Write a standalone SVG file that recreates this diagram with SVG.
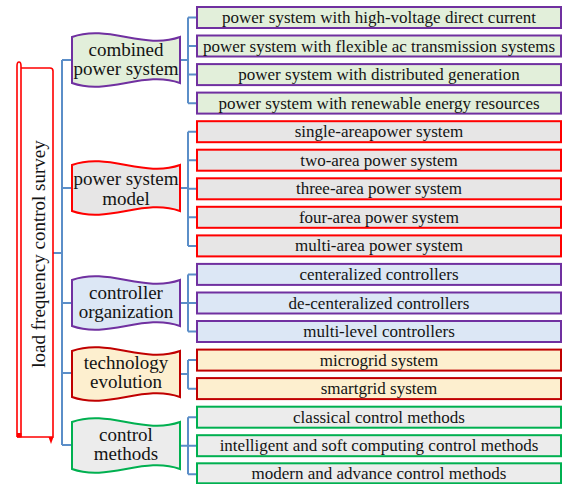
<svg xmlns="http://www.w3.org/2000/svg" width="563" height="484" viewBox="0 0 563 484">
<style>
text{font-family:"Liberation Serif","Times New Roman",serif;fill:#141414;text-anchor:middle}
.leaf{font-size:17px}
.cat{font-size:19px}
.conn{fill:none;stroke:#5b8ec8;stroke-width:2}
.lf{stroke-width:2}
.cw{stroke-width:2}
.scroll{fill:none;stroke:#ff0000;stroke-width:1.6}
</style>
<g id="connectors">
<path class="conn" d="M53,253 H62 M62,60 V445 M62,60 H72 M62,188 H72 M62,303 H72 M62,373 H72 M62,445 H72"/>
<path class="conn" d="M180,60 H188 M188,17.5 V103.15 M188,17.5 H197 M188,46.05 H197 M188,74.6 H197 M188,103.15 H197"/>
<path class="conn" d="M180,188 H188 M188,131.7 V245.9 M188,131.7 H197 M188,160.25 H197 M188,188.8 H197 M188,217.35 H197 M188,245.9 H197"/>
<path class="conn" d="M180,303 H188 M188,274.45 V331.55 M188,274.45 H197 M188,303 H197 M188,331.55 H197"/>
<path class="conn" d="M180,374 H188 M188,360.1 V388.65 M188,360.1 H197 M188,388.65 H197"/>
<path class="conn" d="M180,445.75 H188 M188,417.2 V474.3 M188,417.2 H197 M188,445.75 H197 M188,474.3 H197"/>
</g>
<g id="root">
<path d="M21,68 H50 Q53,68 53,71 V437 H17 V66 Q17,62 19,62 Q21,62 21,66 Z" fill="#ffffff" stroke="none"/>
<path class="scroll" d="M21,437 V66 Q21,62 19,62 Q17,62 17,66 V437"/>
<path class="scroll" d="M21,68 H50 Q53,68 53,71 V437 H17"/>
<rect x="17" y="433" width="4.5" height="4.5" fill="#ff0000"/>
<path d="M48.5,437 H53.5 L51,444 Z" fill="#ff0000"/>
<text class="cat" transform="translate(45,254) rotate(-90)">load frequency control survey</text>
</g>
<g id="cat-combined">
<path class="cw" d="M72,37 C108,24 144,50 180,37 V83 C144,70 108,96 72,83 Z" fill="#e2efda" stroke="#7030a0"/>
<text class="cat" x="126" y="56">combined</text>
<text class="cat" x="126" y="75">power system</text>
</g>
<g id="cat-model">
<path class="cw" d="M72,165 C108,152 144,178 180,165 V211 C144,198 108,224 72,211 Z" fill="#e7e6e6" stroke="#ff0000"/>
<text class="cat" x="126" y="185">power system</text>
<text class="cat" x="126" y="205">model</text>
</g>
<g id="cat-controller">
<path class="cw" d="M72,280 C108,267 144,293 180,280 V326 C144,313 108,339 72,326 Z" fill="#dce7f5" stroke="#7030a0"/>
<text class="cat" x="126" y="299">controller</text>
<text class="cat" x="126" y="318">organization</text>
</g>
<g id="cat-technology">
<path class="cw" d="M72,351 C108,338 144,364 180,351 V397 C144,384 108,410 72,397 Z" fill="#fdefcf" stroke="#c00000"/>
<text class="cat" x="126" y="369">technology</text>
<text class="cat" x="126" y="388">evolution</text>
</g>
<g id="cat-control">
<path class="cw" d="M72,422 C108,409 144,435 180,422 V469 C144,456 108,482 72,469 Z" fill="#ececec" stroke="#00b050"/>
<text class="cat" x="126" y="441">control</text>
<text class="cat" x="126" y="460">methods</text>
</g>
<g id="leaf-hvdc"><rect class="lf" x="197" y="7" width="364" height="21" fill="#e2efda" stroke="#7030a0"/><text class="leaf" x="379" y="23">power system with high-voltage direct current</text></g>
<g id="leaf-facts"><rect class="lf" x="197" y="35.5" width="364" height="21" fill="#e2efda" stroke="#7030a0"/><text class="leaf" x="379" y="51.5">power system with flexible ac transmission systems</text></g>
<g id="leaf-dg"><rect class="lf" x="197" y="64.1" width="364" height="21" fill="#e2efda" stroke="#7030a0"/><text class="leaf" x="379" y="80.1">power system with distributed generation</text></g>
<g id="leaf-res"><rect class="lf" x="197" y="92.6" width="364" height="21" fill="#e2efda" stroke="#7030a0"/><text class="leaf" x="379" y="108.6">power system with renewable energy resources</text></g>
<g id="leaf-single"><rect class="lf" x="197" y="121.2" width="364" height="21" fill="#e7e6e6" stroke="#ff0000"/><text class="leaf" x="379" y="137.2">single-areapower system</text></g>
<g id="leaf-two"><rect class="lf" x="197" y="149.7" width="364" height="21" fill="#e7e6e6" stroke="#ff0000"/><text class="leaf" x="379" y="165.7">two-area power system</text></g>
<g id="leaf-three"><rect class="lf" x="197" y="178.3" width="364" height="21" fill="#e7e6e6" stroke="#ff0000"/><text class="leaf" x="379" y="194.3">three-area power system</text></g>
<g id="leaf-four"><rect class="lf" x="197" y="206.8" width="364" height="21" fill="#e7e6e6" stroke="#ff0000"/><text class="leaf" x="379" y="222.8">four-area power system</text></g>
<g id="leaf-multi"><rect class="lf" x="197" y="235.4" width="364" height="21" fill="#e7e6e6" stroke="#ff0000"/><text class="leaf" x="379" y="251.4">multi-area power system</text></g>
<g id="leaf-central"><rect class="lf" x="197" y="263.9" width="364" height="21" fill="#dce7f5" stroke="#7030a0"/><text class="leaf" x="379" y="279.9">centeralized controllers</text></g>
<g id="leaf-decentral"><rect class="lf" x="197" y="292.5" width="364" height="21" fill="#dce7f5" stroke="#7030a0"/><text class="leaf" x="379" y="308.5">de-centeralized controllers</text></g>
<g id="leaf-multilevel"><rect class="lf" x="197" y="321" width="364" height="21" fill="#dce7f5" stroke="#7030a0"/><text class="leaf" x="379" y="337">multi-level controllers</text></g>
<g id="leaf-microgrid"><rect class="lf" x="197" y="349.6" width="364" height="21" fill="#fdefcf" stroke="#c00000"/><text class="leaf" x="379" y="365.6">microgrid system</text></g>
<g id="leaf-smartgrid"><rect class="lf" x="197" y="378.1" width="364" height="21" fill="#fdefcf" stroke="#c00000"/><text class="leaf" x="379" y="394.1">smartgrid system</text></g>
<g id="leaf-classical"><rect class="lf" x="197" y="406.7" width="364" height="21" fill="#ececec" stroke="#00b050"/><text class="leaf" x="379" y="422.7">classical control methods</text></g>
<g id="leaf-intelligent"><rect class="lf" x="197" y="435.2" width="364" height="21" fill="#ececec" stroke="#00b050"/><text class="leaf" x="379" y="451.2">intelligent and soft computing control methods</text></g>
<g id="leaf-modern"><rect class="lf" x="197" y="463.3" width="364" height="20" fill="#ececec" stroke="#00b050"/><text class="leaf" x="379" y="479">modern and advance control methods</text></g>
</svg>
